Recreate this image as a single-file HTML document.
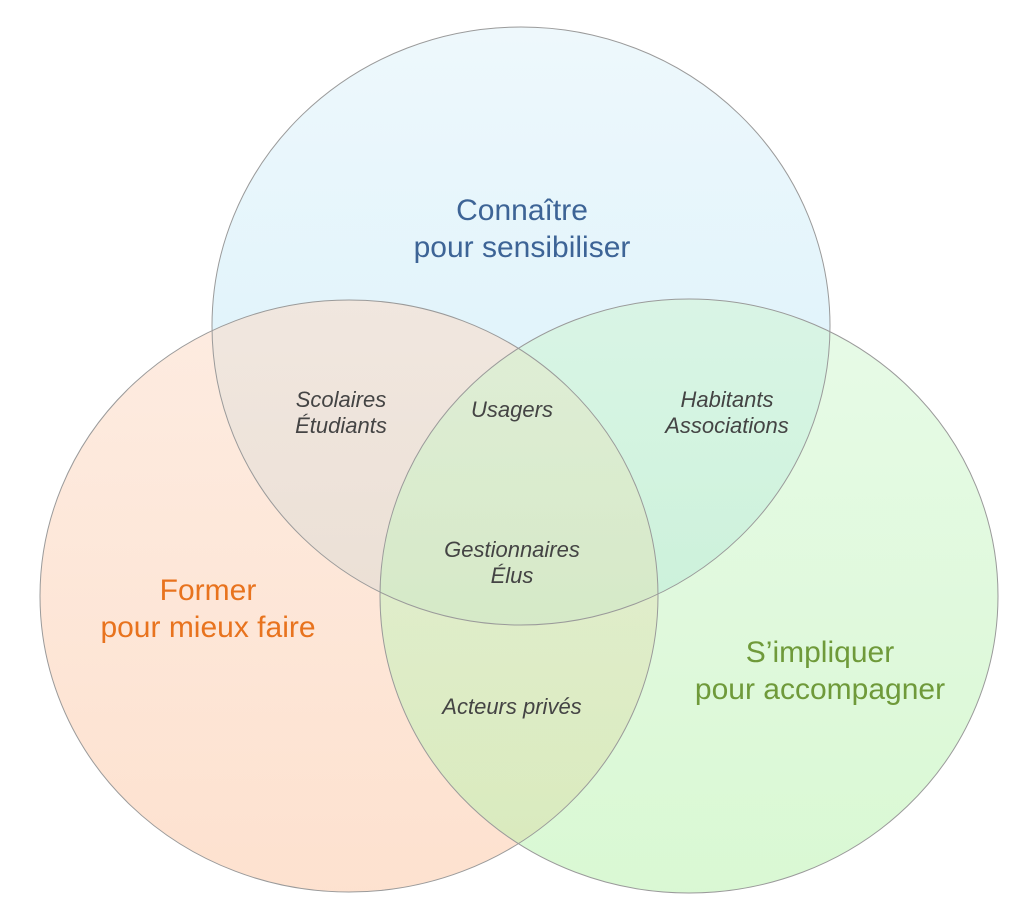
<!DOCTYPE html>
<html><head><meta charset="utf-8"><style>
html,body{margin:0;padding:0;background:#fff;}
svg{display:block;}
text{font-family:"Liberation Sans",sans-serif;}
</style></head><body>
<svg width="1024" height="910" viewBox="0 0 1024 910">
<defs>
<linearGradient id="gb" x1="0" y1="0" x2="0" y2="1"><stop offset="0" stop-color="#eef8fc"/><stop offset="1" stop-color="#d6f0fa"/></linearGradient>
<linearGradient id="go" x1="0" y1="0" x2="0" y2="1"><stop offset="0" stop-color="#fcdcc8"/><stop offset="1" stop-color="#fcc9a8"/></linearGradient>
<linearGradient id="gg" x1="0" y1="0" x2="0" y2="1"><stop offset="0" stop-color="#d0f5d0"/><stop offset="1" stop-color="#b4f2a8"/></linearGradient>
</defs>
<ellipse cx="521" cy="326" rx="309" ry="299" fill="url(#gb)"/>
<ellipse cx="349" cy="596" rx="309" ry="296" fill="url(#go)" fill-opacity="0.55"/>
<ellipse cx="689" cy="596" rx="309" ry="297" fill="url(#gg)" fill-opacity="0.5"/>
<g fill="none" stroke="#9a9a9a" stroke-width="1">
<ellipse cx="521" cy="326" rx="309" ry="299"/>
<ellipse cx="349" cy="596" rx="309" ry="296"/>
<ellipse cx="689" cy="596" rx="309" ry="297"/>
</g>
<g text-anchor="middle" font-size="30">
<text x="522" y="220" fill="#3d6496">Connaître</text>
<text x="522" y="257" fill="#3d6496">pour sensibiliser</text>
<text x="208" y="600" fill="#e8731e">Former</text>
<text x="208" y="637" fill="#e8731e">pour mieux faire</text>
<text x="820" y="662" fill="#6f9a3a">S’impliquer</text>
<text x="820" y="699" fill="#6f9a3a">pour accompagner</text>
</g>
<g text-anchor="middle" font-size="22" font-style="italic" fill="#444">
<text x="341" y="407">Scolaires</text>
<text x="341" y="433">Étudiants</text>
<text x="512" y="417">Usagers</text>
<text x="727" y="407">Habitants</text>
<text x="727" y="433">Associations</text>
<text x="512" y="557">Gestionnaires</text>
<text x="512" y="583">Élus</text>
<text x="512" y="714">Acteurs privés</text>
</g>
</svg>
</body></html>
